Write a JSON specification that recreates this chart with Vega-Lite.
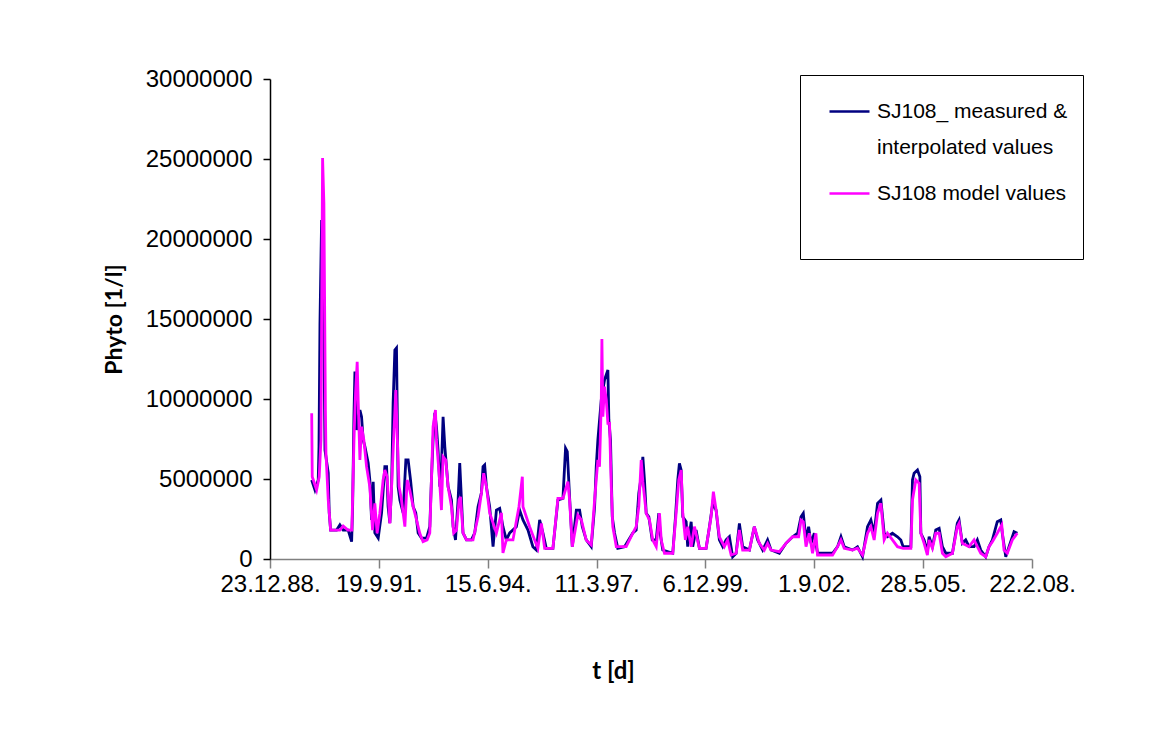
{
 "$schema": "https://vega.github.io/schema/vega-lite/v6.json",
 "width": 762,
 "height": 480,
 "autosize": "none",
 "padding": {"left": 270, "top": 79, "right": 119, "bottom": 188},
 "background": "white",
 "config": {"view": {"stroke": null}, "font": "Liberation Sans"},
 "data": {"values": [
{"series":"measured","t":32883,"phyto":4940000},{"series":"measured","t":32913,"phyto":4310000},{"series":"measured","t":32943,"phyto":4940000},{"series":"measured","t":32950,"phyto":7020000},{"series":"measured","t":32959,"phyto":14750000},{"series":"measured","t":32974,"phyto":21190000},{"series":"measured","t":32989,"phyto":18250000},{"series":"measured","t":33005,"phyto":6810000},{"series":"measured","t":33035,"phyto":5380000},{"series":"measured","t":33044,"phyto":2880000},{"series":"measured","t":33057,"phyto":1810000},{"series":"measured","t":33112,"phyto":1810000},{"series":"measured","t":33142,"phyto":2130000},{"series":"measured","t":33172,"phyto":1810000},{"series":"measured","t":33218,"phyto":1810000},{"series":"measured","t":33250,"phyto":1080000},{"series":"measured","t":33259,"phyto":3270000},{"series":"measured","t":33271,"phyto":8890000},{"series":"measured","t":33280,"phyto":11710000},{"series":"measured","t":33295,"phyto":8060000},{"series":"measured","t":33326,"phyto":9310000},{"series":"measured","t":33341,"phyto":8890000},{"series":"measured","t":33356,"phyto":7440000},{"series":"measured","t":33372,"phyto":7020000},{"series":"measured","t":33402,"phyto":6000000},{"series":"measured","t":33417,"phyto":4940000},{"series":"measured","t":33433,"phyto":2440000},{"series":"measured","t":33448,"phyto":4830000},{"series":"measured","t":33463,"phyto":1630000},{"series":"measured","t":33494,"phyto":1310000},{"series":"measured","t":33525,"phyto":2880000},{"series":"measured","t":33555,"phyto":5770000},{"series":"measured","t":33571,"phyto":5770000},{"series":"measured","t":33585,"phyto":3270000},{"series":"measured","t":33601,"phyto":2250000},{"series":"measured","t":33617,"phyto":4520000},{"series":"measured","t":33631,"phyto":9750000},{"series":"measured","t":33647,"phyto":13060000},{"series":"measured","t":33662,"phyto":13190000},{"series":"measured","t":33668,"phyto":9750000},{"series":"measured","t":33677,"phyto":4520000},{"series":"measured","t":33693,"phyto":3690000},{"series":"measured","t":33723,"phyto":2880000},{"series":"measured","t":33748,"phyto":6190000},{"series":"measured","t":33769,"phyto":6190000},{"series":"measured","t":33791,"phyto":4940000},{"series":"measured","t":33815,"phyto":3270000},{"series":"measured","t":33839,"phyto":2880000},{"series":"measured","t":33861,"phyto":1630000},{"series":"measured","t":33892,"phyto":1310000},{"series":"measured","t":33938,"phyto":1310000},{"series":"measured","t":33968,"phyto":2020000},{"series":"measured","t":33983,"phyto":4940000},{"series":"measured","t":33998,"phyto":7440000},{"series":"measured","t":34014,"phyto":9130000},{"series":"measured","t":34029,"phyto":8270000},{"series":"measured","t":34044,"phyto":6810000},{"series":"measured","t":34060,"phyto":4520000},{"series":"measured","t":34075,"phyto":5770000},{"series":"measured","t":34090,"phyto":8890000},{"series":"measured","t":34106,"phyto":7020000},{"series":"measured","t":34121,"phyto":5770000},{"series":"measured","t":34136,"phyto":4520000},{"series":"measured","t":34151,"phyto":4130000},{"series":"measured","t":34167,"phyto":3690000},{"series":"measured","t":34182,"phyto":2020000},{"series":"measured","t":34204,"phyto":1190000},{"series":"measured","t":34228,"phyto":3690000},{"series":"measured","t":34243,"phyto":6000000},{"series":"measured","t":34259,"phyto":3690000},{"series":"measured","t":34273,"phyto":1630000},{"series":"measured","t":34305,"phyto":1190000},{"series":"measured","t":34350,"phyto":1190000},{"series":"measured","t":34381,"phyto":1630000},{"series":"measured","t":34411,"phyto":3270000},{"series":"measured","t":34442,"phyto":4130000},{"series":"measured","t":34457,"phyto":5770000},{"series":"measured","t":34472,"phyto":5880000},{"series":"measured","t":34488,"phyto":4520000},{"series":"measured","t":34518,"phyto":3270000},{"series":"measured","t":34549,"phyto":770000},{"series":"measured","t":34580,"phyto":3060000},{"series":"measured","t":34610,"phyto":3170000},{"series":"measured","t":34640,"phyto":2020000},{"series":"measured","t":34671,"phyto":1190000},{"series":"measured","t":34702,"phyto":1630000},{"series":"measured","t":34763,"phyto":2020000},{"series":"measured","t":34793,"phyto":3060000},{"series":"measured","t":34824,"phyto":2440000},{"series":"measured","t":34870,"phyto":1810000},{"series":"measured","t":34915,"phyto":770000},{"series":"measured","t":34947,"phyto":560000},{"series":"measured","t":34977,"phyto":2440000},{"series":"measured","t":35007,"phyto":1630000},{"series":"measured","t":35038,"phyto":670000},{"series":"measured","t":35099,"phyto":670000},{"series":"measured","t":35145,"phyto":3690000},{"series":"measured","t":35191,"phyto":3790000},{"series":"measured","t":35215,"phyto":6920000},{"series":"measured","t":35231,"phyto":6710000},{"series":"measured","t":35252,"phyto":3890000},{"series":"measured","t":35277,"phyto":770000},{"series":"measured","t":35314,"phyto":3060000},{"series":"measured","t":35344,"phyto":3060000},{"series":"measured","t":35369,"phyto":2020000},{"series":"measured","t":35405,"phyto":1190000},{"series":"measured","t":35451,"phyto":770000},{"series":"measured","t":35482,"phyto":3270000},{"series":"measured","t":35497,"phyto":5770000},{"series":"measured","t":35512,"phyto":7440000},{"series":"measured","t":35543,"phyto":9940000},{"series":"measured","t":35573,"phyto":11190000},{"series":"measured","t":35604,"phyto":11810000},{"series":"measured","t":35613,"phyto":8690000},{"series":"measured","t":35628,"phyto":7440000},{"series":"measured","t":35644,"phyto":2640000},{"series":"measured","t":35665,"phyto":1630000},{"series":"measured","t":35695,"phyto":670000},{"series":"measured","t":35757,"phyto":770000},{"series":"measured","t":35833,"phyto":1630000},{"series":"measured","t":35864,"phyto":1810000},{"series":"measured","t":35888,"phyto":4110000},{"series":"measured","t":35910,"phyto":5140000},{"series":"measured","t":35925,"phyto":6390000},{"series":"measured","t":35940,"phyto":4940000},{"series":"measured","t":35956,"phyto":2860000},{"series":"measured","t":35980,"phyto":2640000},{"series":"measured","t":36011,"phyto":1190000},{"series":"measured","t":36048,"phyto":1190000},{"series":"measured","t":36072,"phyto":2860000},{"series":"measured","t":36084,"phyto":1610000},{"series":"measured","t":36108,"phyto":560000},{"series":"measured","t":36200,"phyto":360000},{"series":"measured","t":36225,"phyto":2640000},{"series":"measured","t":36246,"phyto":4940000},{"series":"measured","t":36261,"phyto":5980000},{"series":"measured","t":36277,"phyto":5560000},{"series":"measured","t":36292,"phyto":2640000},{"series":"measured","t":36323,"phyto":2330000},{"series":"measured","t":36337,"phyto":770000},{"series":"measured","t":36369,"phyto":2330000},{"series":"measured","t":36383,"phyto":770000},{"series":"measured","t":36414,"phyto":1810000},{"series":"measured","t":36445,"phyto":670000},{"series":"measured","t":36506,"phyto":670000},{"series":"measured","t":36537,"phyto":2020000},{"series":"measured","t":36567,"phyto":3480000},{"series":"measured","t":36598,"phyto":3060000},{"series":"measured","t":36628,"phyto":1190000},{"series":"measured","t":36659,"phyto":770000},{"series":"measured","t":36690,"phyto":1190000},{"series":"measured","t":36720,"phyto":1390000},{"series":"measured","t":36750,"phyto":140000},{"series":"measured","t":36782,"phyto":360000},{"series":"measured","t":36812,"phyto":2230000},{"series":"measured","t":36842,"phyto":770000},{"series":"measured","t":36904,"phyto":560000},{"series":"measured","t":36949,"phyto":2020000},{"series":"measured","t":36980,"phyto":1190000},{"series":"measured","t":37026,"phyto":560000},{"series":"measured","t":37071,"phyto":1190000},{"series":"measured","t":37103,"phyto":560000},{"series":"measured","t":37179,"phyto":360000},{"series":"measured","t":37240,"phyto":980000},{"series":"measured","t":37301,"phyto":1390000},{"series":"measured","t":37347,"phyto":1610000},{"series":"measured","t":37378,"phyto":2640000},{"series":"measured","t":37399,"phyto":2860000},{"series":"measured","t":37424,"phyto":1190000},{"series":"measured","t":37448,"phyto":2020000},{"series":"measured","t":37470,"phyto":980000},{"series":"measured","t":37500,"phyto":1610000},{"series":"measured","t":37530,"phyto":360000},{"series":"measured","t":37668,"phyto":360000},{"series":"measured","t":37714,"phyto":770000},{"series":"measured","t":37745,"phyto":1390000},{"series":"measured","t":37775,"phyto":770000},{"series":"measured","t":37851,"phyto":560000},{"series":"measured","t":37897,"phyto":770000},{"series":"measured","t":37943,"phyto":140000},{"series":"measured","t":37989,"phyto":2020000},{"series":"measured","t":38020,"phyto":2440000},{"series":"measured","t":38050,"phyto":1610000},{"series":"measured","t":38081,"phyto":3480000},{"series":"measured","t":38112,"phyto":3690000},{"series":"measured","t":38142,"phyto":1610000},{"series":"measured","t":38172,"phyto":1390000},{"series":"measured","t":38218,"phyto":1610000},{"series":"measured","t":38264,"phyto":1390000},{"series":"measured","t":38295,"phyto":1190000},{"series":"measured","t":38316,"phyto":770000},{"series":"measured","t":38387,"phyto":770000},{"series":"measured","t":38402,"phyto":4940000},{"series":"measured","t":38417,"phyto":5360000},{"series":"measured","t":38448,"phyto":5560000},{"series":"measured","t":38470,"phyto":5140000},{"series":"measured","t":38479,"phyto":1610000},{"series":"measured","t":38509,"phyto":1190000},{"series":"measured","t":38539,"phyto":460000},{"series":"measured","t":38555,"phyto":1390000},{"series":"measured","t":38585,"phyto":770000},{"series":"measured","t":38616,"phyto":1810000},{"series":"measured","t":38647,"phyto":1920000},{"series":"measured","t":38677,"phyto":770000},{"series":"measured","t":38708,"phyto":360000},{"series":"measured","t":38769,"phyto":360000},{"series":"measured","t":38814,"phyto":2230000},{"series":"measured","t":38830,"phyto":2440000},{"series":"measured","t":38860,"phyto":980000},{"series":"measured","t":38891,"phyto":1190000},{"series":"measured","t":38922,"phyto":770000},{"series":"measured","t":38968,"phyto":770000},{"series":"measured","t":38998,"phyto":1190000},{"series":"measured","t":39029,"phyto":560000},{"series":"measured","t":39075,"phyto":140000},{"series":"measured","t":39105,"phyto":770000},{"series":"measured","t":39136,"phyto":1190000},{"series":"measured","t":39181,"phyto":2330000},{"series":"measured","t":39213,"phyto":2440000},{"series":"measured","t":39227,"phyto":1610000},{"series":"measured","t":39259,"phyto":140000},{"series":"measured","t":39289,"phyto":770000},{"series":"measured","t":39335,"phyto":1710000},{"series":"measured","t":39365,"phyto":1610000},
{"series":"model","t":32883,"phyto":9110000},{"series":"model","t":32888,"phyto":5140000},{"series":"model","t":32928,"phyto":4310000},{"series":"model","t":32952,"phyto":5140000},{"series":"model","t":32968,"phyto":7440000},{"series":"model","t":32983,"phyto":25060000},{"series":"model","t":32995,"phyto":22250000},{"series":"model","t":33009,"phyto":9310000},{"series":"model","t":33014,"phyto":6630000},{"series":"model","t":33035,"phyto":3690000},{"series":"model","t":33057,"phyto":1810000},{"series":"model","t":33142,"phyto":1810000},{"series":"model","t":33172,"phyto":2060000},{"series":"model","t":33216,"phyto":1810000},{"series":"model","t":33252,"phyto":1810000},{"series":"model","t":33273,"phyto":7860000},{"series":"model","t":33286,"phyto":10360000},{"series":"model","t":33301,"phyto":12330000},{"series":"model","t":33310,"phyto":9940000},{"series":"model","t":33326,"phyto":6190000},{"series":"model","t":33341,"phyto":8270000},{"series":"model","t":33362,"phyto":7440000},{"series":"model","t":33387,"phyto":5770000},{"series":"model","t":33417,"phyto":4520000},{"series":"model","t":33442,"phyto":1810000},{"series":"model","t":33463,"phyto":3480000},{"series":"model","t":33484,"phyto":1610000},{"series":"model","t":33509,"phyto":2860000},{"series":"model","t":33539,"phyto":4940000},{"series":"model","t":33555,"phyto":5560000},{"series":"model","t":33576,"phyto":5140000},{"series":"model","t":33601,"phyto":2230000},{"series":"model","t":33617,"phyto":4520000},{"series":"model","t":33638,"phyto":7860000},{"series":"model","t":33656,"phyto":10560000},{"series":"model","t":33668,"phyto":7860000},{"series":"model","t":33686,"phyto":4520000},{"series":"model","t":33708,"phyto":3690000},{"series":"model","t":33739,"phyto":2020000},{"series":"model","t":33760,"phyto":4940000},{"series":"model","t":33784,"phyto":4310000},{"series":"model","t":33815,"phyto":3270000},{"series":"model","t":33846,"phyto":2440000},{"series":"model","t":33876,"phyto":1610000},{"series":"model","t":33906,"phyto":1080000},{"series":"model","t":33943,"phyto":1190000},{"series":"model","t":33968,"phyto":1630000},{"series":"model","t":33983,"phyto":4940000},{"series":"model","t":33998,"phyto":8270000},{"series":"model","t":34020,"phyto":9310000},{"series":"model","t":34029,"phyto":7440000},{"series":"model","t":34053,"phyto":5380000},{"series":"model","t":34075,"phyto":3060000},{"series":"model","t":34090,"phyto":6390000},{"series":"model","t":34115,"phyto":6190000},{"series":"model","t":34136,"phyto":4520000},{"series":"model","t":34167,"phyto":3270000},{"series":"model","t":34188,"phyto":1630000},{"series":"model","t":34213,"phyto":1810000},{"series":"model","t":34237,"phyto":3690000},{"series":"model","t":34250,"phyto":3890000},{"series":"model","t":34273,"phyto":1630000},{"series":"model","t":34305,"phyto":1190000},{"series":"model","t":34365,"phyto":1190000},{"series":"model","t":34411,"phyto":2640000},{"series":"model","t":34442,"phyto":4110000},{"series":"model","t":34463,"phyto":5360000},{"series":"model","t":34488,"phyto":4520000},{"series":"model","t":34518,"phyto":2880000},{"series":"model","t":34580,"phyto":1630000},{"series":"model","t":34626,"phyto":2880000},{"series":"model","t":34640,"phyto":380000},{"series":"model","t":34671,"phyto":1190000},{"series":"model","t":34732,"phyto":1190000},{"series":"model","t":34787,"phyto":3270000},{"series":"model","t":34818,"phyto":5140000},{"series":"model","t":34824,"phyto":3270000},{"series":"model","t":34885,"phyto":2020000},{"series":"model","t":34931,"phyto":1190000},{"series":"model","t":34961,"phyto":670000},{"series":"model","t":34993,"phyto":2230000},{"series":"model","t":35023,"phyto":670000},{"series":"model","t":35099,"phyto":670000},{"series":"model","t":35145,"phyto":3790000},{"series":"model","t":35191,"phyto":3790000},{"series":"model","t":35237,"phyto":4830000},{"series":"model","t":35252,"phyto":3690000},{"series":"model","t":35277,"phyto":770000},{"series":"model","t":35328,"phyto":2750000},{"series":"model","t":35360,"phyto":2440000},{"series":"model","t":35405,"phyto":1190000},{"series":"model","t":35451,"phyto":880000},{"series":"model","t":35482,"phyto":3690000},{"series":"model","t":35512,"phyto":6190000},{"series":"model","t":35527,"phyto":5770000},{"series":"model","t":35543,"phyto":9730000},{"series":"model","t":35549,"phyto":13750000},{"series":"model","t":35558,"phyto":8890000},{"series":"model","t":35573,"phyto":10770000},{"series":"model","t":35589,"phyto":9940000},{"series":"model","t":35604,"phyto":8480000},{"series":"model","t":35619,"phyto":8480000},{"series":"model","t":35635,"phyto":4520000},{"series":"model","t":35649,"phyto":2020000},{"series":"model","t":35681,"phyto":770000},{"series":"model","t":35772,"phyto":770000},{"series":"model","t":35833,"phyto":1610000},{"series":"model","t":35864,"phyto":2020000},{"series":"model","t":35888,"phyto":3270000},{"series":"model","t":35910,"phyto":6190000},{"series":"model","t":35925,"phyto":4830000},{"series":"model","t":35956,"phyto":2860000},{"series":"model","t":35986,"phyto":2440000},{"series":"model","t":36016,"phyto":1190000},{"series":"model","t":36048,"phyto":770000},{"series":"model","t":36078,"phyto":2860000},{"series":"model","t":36094,"phyto":1190000},{"series":"model","t":36124,"phyto":360000},{"series":"model","t":36200,"phyto":360000},{"series":"model","t":36231,"phyto":2860000},{"series":"model","t":36255,"phyto":4940000},{"series":"model","t":36277,"phyto":5560000},{"series":"model","t":36292,"phyto":2860000},{"series":"model","t":36316,"phyto":1190000},{"series":"model","t":36337,"phyto":2020000},{"series":"model","t":36369,"phyto":770000},{"series":"model","t":36399,"phyto":2020000},{"series":"model","t":36445,"phyto":670000},{"series":"model","t":36506,"phyto":670000},{"series":"model","t":36552,"phyto":2640000},{"series":"model","t":36573,"phyto":4210000},{"series":"model","t":36598,"phyto":3060000},{"series":"model","t":36628,"phyto":1390000},{"series":"model","t":36674,"phyto":770000},{"series":"model","t":36704,"phyto":1190000},{"series":"model","t":36736,"phyto":250000},{"series":"model","t":36782,"phyto":360000},{"series":"model","t":36812,"phyto":1810000},{"series":"model","t":36842,"phyto":560000},{"series":"model","t":36904,"phyto":560000},{"series":"model","t":36949,"phyto":2020000},{"series":"model","t":36995,"phyto":980000},{"series":"model","t":37041,"phyto":560000},{"series":"model","t":37071,"phyto":980000},{"series":"model","t":37103,"phyto":560000},{"series":"model","t":37179,"phyto":460000},{"series":"model","t":37240,"phyto":980000},{"series":"model","t":37301,"phyto":1390000},{"series":"model","t":37356,"phyto":1390000},{"series":"model","t":37378,"phyto":2440000},{"series":"model","t":37399,"phyto":2330000},{"series":"model","t":37424,"phyto":770000},{"series":"model","t":37454,"phyto":1610000},{"series":"model","t":37484,"phyto":360000},{"series":"model","t":37515,"phyto":1610000},{"series":"model","t":37530,"phyto":250000},{"series":"model","t":37668,"phyto":250000},{"series":"model","t":37714,"phyto":770000},{"series":"model","t":37745,"phyto":1190000},{"series":"model","t":37775,"phyto":670000},{"series":"model","t":37851,"phyto":560000},{"series":"model","t":37897,"phyto":670000},{"series":"model","t":37943,"phyto":250000},{"series":"model","t":37989,"phyto":1610000},{"series":"model","t":38020,"phyto":2020000},{"series":"model","t":38050,"phyto":1190000},{"series":"model","t":38081,"phyto":2860000},{"series":"model","t":38112,"phyto":3480000},{"series":"model","t":38142,"phyto":1190000},{"series":"model","t":38172,"phyto":1610000},{"series":"model","t":38218,"phyto":1190000},{"series":"model","t":38264,"phyto":770000},{"series":"model","t":38316,"phyto":670000},{"series":"model","t":38387,"phyto":670000},{"series":"model","t":38402,"phyto":3690000},{"series":"model","t":38433,"phyto":4940000},{"series":"model","t":38463,"phyto":4730000},{"series":"model","t":38479,"phyto":1610000},{"series":"model","t":38509,"phyto":980000},{"series":"model","t":38539,"phyto":250000},{"series":"model","t":38555,"phyto":1190000},{"series":"model","t":38585,"phyto":670000},{"series":"model","t":38616,"phyto":1610000},{"series":"model","t":38647,"phyto":1610000},{"series":"model","t":38677,"phyto":360000},{"series":"model","t":38708,"phyto":140000},{"series":"model","t":38769,"phyto":360000},{"series":"model","t":38814,"phyto":2020000},{"series":"model","t":38830,"phyto":2230000},{"series":"model","t":38860,"phyto":980000},{"series":"model","t":38922,"phyto":770000},{"series":"model","t":38968,"phyto":1190000},{"series":"model","t":38998,"phyto":770000},{"series":"model","t":39029,"phyto":360000},{"series":"model","t":39075,"phyto":140000},{"series":"model","t":39105,"phyto":770000},{"series":"model","t":39136,"phyto":1080000},{"series":"model","t":39181,"phyto":1610000},{"series":"model","t":39222,"phyto":2130000},{"series":"model","t":39243,"phyto":560000},{"series":"model","t":39273,"phyto":360000},{"series":"model","t":39319,"phyto":1190000},{"series":"model","t":39365,"phyto":1610000}
 ]},
 "encoding": {
  "x": {
   "field": "t", "type": "quantitative",
   "scale": {"domain": [32500, 39500], "nice": false, "zero": false},
   "axis": {
    "values": [32500, 33500, 34500, 35500, 36500, 37500, 38500, 39500],
    "labelExpr": "utcFormat((datum.value - 25569) * 86400000, '%-d.%-m.%y.')",
    "grid": false, "domainColor": "#808080", "domainWidth": 1.5, "tickColor": "#808080", "tickWidth": 1.5, "tickSize": 9,
    "labelFont": "Liberation Sans", "labelFontSize": 24, "labelColor": "black", "labelPadding": 4,
    "labelFlush": false, "labelOverlap": false,
    "title": "t [d]", "titleFont": "Lato", "titleFontSize": 24, "titleFontWeight": "bold", "titleColor": "black",
    "titleX": 343, "titleY": 119, "titleBaseline": "alphabetic", "titleAlign": "center"
   }
  },
  "y": {
   "field": "phyto", "type": "quantitative",
   "scale": {"domain": [0, 30000000], "nice": false},
   "axis": {
    "values": [0, 5000000, 10000000, 15000000, 20000000, 25000000, 30000000],
    "format": "d", "grid": false, "domainColor": "black", "domainWidth": 1.5, "tickColor": "black", "tickWidth": 1.5, "tickSize": 7,
    "labelFont": "Liberation Sans", "labelFontSize": 24, "labelColor": "black", "labelPadding": 11,
    "title": "Phyto [1/l]", "titleFont": "Lato", "titleFontSize": 23, "titleFontWeight": "bold", "titleColor": "black",
    "titleX": -149, "titleBaseline": "alphabetic"
   }
  },
  "color": {
   "field": "series", "type": "nominal",
   "scale": {"domain": ["measured", "model"], "range": ["#000080", "#FF00FF"]},
   "legend": {
    "orient": "none", "legendX": 530, "legendY": -4,
    "title": " ", "titleOrient": "bottom", "titleFontSize": 30, "titlePadding": 10,
    "strokeColor": "black", "fillColor": "white", "padding": 15,
    "symbolType": "stroke", "symbolSize": 1600, "symbolStrokeWidth": 2.5, "symbolOffset": 13,
    "labelFont": "Liberation Sans", "labelFontSize": 21, "labelColor": "black", "labelOffset": 6, "labelLimit": 400,
    "rowPadding": 14,
    "labelExpr": "datum.value === 'measured' ? ['SJ108_ measured &', 'interpolated values'] : 'SJ108 model values'",
    "encode": {"labels": {"update": {"lineHeight": {"value": 36}}}}
   }
  }
 },
 "layer": [
  {"transform": [{"filter": "datum.series === 'measured'"}], "mark": {"type": "line", "strokeWidth": 2.8}},
  {"transform": [{"filter": "datum.series === 'model'"}], "mark": {"type": "line", "strokeWidth": 2.8}}
 ]
}
